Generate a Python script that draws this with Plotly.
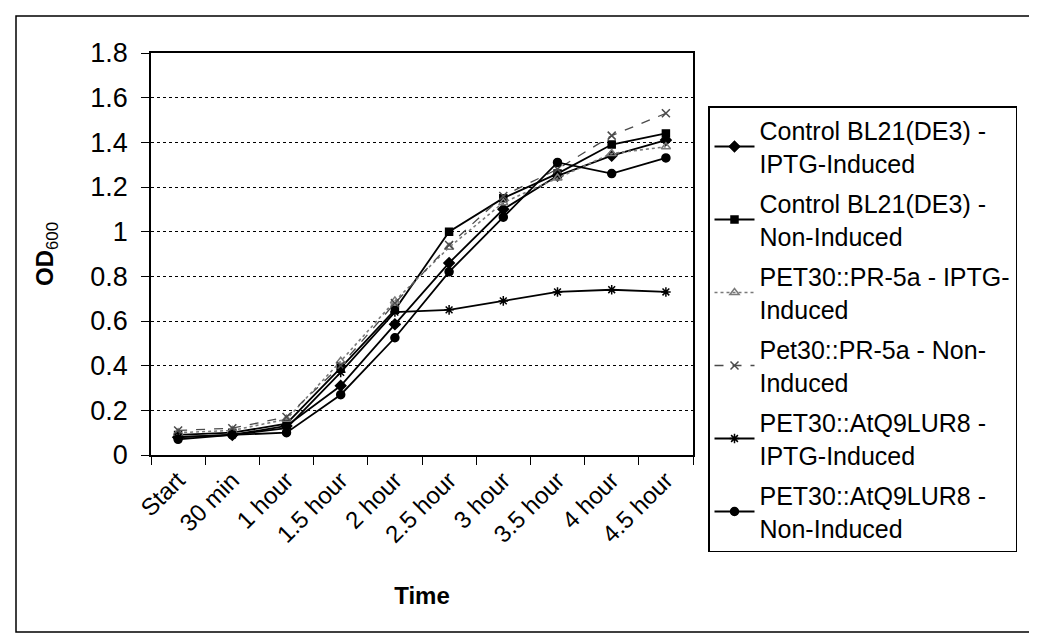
import plotly.graph_objects as go

time_labels = ["Start", "30 min", "1 hour", "1.5 hour", "2 hour", "2.5 hour",
               "3 hour", "3.5 hour", "4 hour", "4.5 hour"]

control_iptg = [0.08, 0.09, 0.13, 0.31, 0.585, 0.86, 1.10, 1.25, 1.34, 1.41]
control_non = [0.09, 0.10, 0.14, 0.39, 0.65, 1.00, 1.15, 1.26, 1.39, 1.44]
pr5a_iptg = [0.10, 0.11, 0.16, 0.42, 0.69, 0.93, 1.13, 1.24, 1.35, 1.38]
pr5a_non = [0.11, 0.12, 0.17, 0.40, 0.68, 0.94, 1.16, 1.28, 1.43, 1.53]
atq_iptg = [0.08, 0.09, 0.12, 0.37, 0.64, 0.65, 0.69, 0.73, 0.74, 0.73]
atq_non = [0.07, 0.09, 0.10, 0.27, 0.525, 0.82, 1.065, 1.31, 1.26, 1.33]

series_names = [
    "Control BL21(DE3) -<br>IPTG-Induced",
    "Control BL21(DE3) -<br>Non-Induced",
    "PET30::PR-5a - IPTG-<br>Induced",
    "Pet30::PR-5a - Non-<br>Induced",
    "PET30::AtQ9LUR8 -<br>IPTG-Induced",
    "PET30::AtQ9LUR8 -<br>Non-Induced",
]
series_values = [control_iptg, control_non, pr5a_iptg, pr5a_non, atq_iptg, atq_non]

styles = [
    dict(color="#000000", dash="solid", symbol="diamond", size=8, width=1.8),
    dict(color="#000000", dash="solid", symbol="square", size=7, width=1.8),
    dict(color="#7a7a7a", dash="dot", symbol="triangle-up-open", size=8, width=1.6),
    dict(color="#4a4a4a", dash="dash", symbol="x-thin-open", size=8, width=1.3),
    dict(color="#000000", dash="solid", symbol="asterisk-open", size=8, width=1.8),
    dict(color="#000000", dash="solid", symbol="circle", size=8, width=1.8),
]

fig = go.Figure()
for i, (name, vals, st) in enumerate(zip(series_names, series_values, styles)):
    fig.add_trace(go.Scatter(
        x=time_labels, y=vals, name=name, mode="lines+markers",
        legendgroup=f"g{i}",
        line=dict(color=st["color"], dash=st["dash"], width=st["width"]),
        marker=dict(symbol=st["symbol"], size=st["size"], color=st["color"],
                    line=dict(color=st["color"], width=1.5)),
    ))

# plot area: x 143..685, y 45..447 in a 1037x634 canvas
L, R, T, B = 143, 685, 45, 447
W, H = 1037, 634
pw, ph = R - L, B - T

def px(x):
    return (x - L) / pw

def py(y):
    return (B - y) / ph

fig.update_layout(
    width=W, height=H,
    margin=dict(l=L, r=W - R, t=T, b=H - B, autoexpand=False),
    paper_bgcolor="white", plot_bgcolor="white",
    font=dict(family="Liberation Sans, Arial, sans-serif", color="black"),
    showlegend=True,
    legend=dict(
        x=px(700), y=py(98), xanchor="left", yanchor="top",
        bordercolor="black", borderwidth=1.5, bgcolor="white",
        font=dict(size=25, family="Liberation Sans, Arial, sans-serif"),
        tracegroupgap=5, traceorder="grouped",
        itemwidth=40, maxheight=620,
    ),
    xaxis=dict(
        type="category", range=[-0.5, 9.5],
        showline=True, linecolor="black", linewidth=1.5, mirror=True,
        ticks="outside", tickson="boundaries", ticklen=8, tickcolor="black",
        tickangle=-45, tickfont=dict(size=24),
        showgrid=False,
        title=dict(text="<b>Time</b>", font=dict(size=24), standoff=40),
    ),
    yaxis=dict(
        range=[0, 1.8],
        tickvals=[0, 0.2, 0.4, 0.6, 0.8, 1.0, 1.2, 1.4, 1.6, 1.8],
        ticktext=["0", "0.2", "0.4", "0.6", "0.8", "1", "1.2", "1.4", "1.6", "1.8"],
        showline=True, linecolor="black", linewidth=1.5, mirror=True,
        ticks="outside", ticklen=8, tickcolor="black",
        ticklabelstandoff=8,
        tickfont=dict(size=27),
        showgrid=True, gridcolor="black", gridwidth=1.2, griddash="dot",
        zeroline=False,
        title=dict(text="<b>OD</b><sub>600</sub>", font=dict(size=24), standoff=30),
    ),
)

# outer chart border
fig.add_shape(type="rect", xref="paper", yref="paper",
              x0=px(8), x1=px(1034), y0=py(624), y1=py(8),
              line=dict(color="black", width=1.5), fillcolor="rgba(0,0,0,0)",
              layer="below")

fig.write_html("out.html")
